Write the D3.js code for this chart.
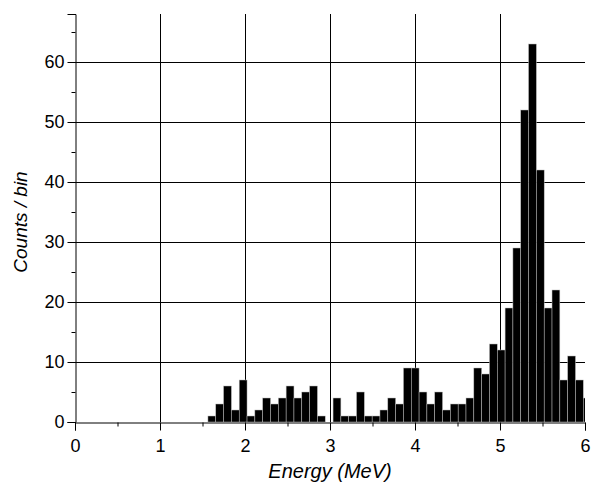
<!DOCTYPE html>
<html>
<head>
<meta charset="utf-8">
<script src="https://cdn.jsdelivr.net/npm/d3@7"></script>
<style>
  body { margin: 0; background: #fff; }
  svg text { font-family: Arial, "Liberation Sans", sans-serif; }
</style>
</head>
<body>
<div id="chart"></div>
<script>
// histogram: counts per energy bin, bins start at index firstBin
const binWidth = 0.092;
const firstBin = 17;
const counts = [1, 3, 6, 2, 7, 1, 2, 4, 3, 4, 6, 4, 5, 6, 1, 0,
  4, 1, 1, 5, 1, 1, 2, 4, 3, 9, 9, 5, 3, 5, 2,
  3, 3, 4, 9, 8, 13, 12, 19, 29, 52, 63, 42, 19, 22, 7, 11, 7, 4];
const xTicks = [0, 1, 2, 3, 4, 5, 6];
const yTicks = [0, 10, 20, 30, 40, 50, 60];

let width = 592, height = 484;
let margin = { top: 14, bottom: 62, left: 75, right: 7 };

let svg = d3.select('#chart')
  .append('svg')
  .attr('width', width)
  .attr('height', height);

let xscale = d3.scaleLinear()
  .domain([0, 6])
  .range([margin.left, width - margin.right]);

let yscale = d3.scaleLinear()
  .domain([0, 68])
  .range([height - margin.bottom, margin.top]);

svg.append('defs').append('clipPath')
  .attr('id', 'plot')
  .append('rect')
  .attr('x', margin.left)
  .attr('y', margin.top)
  .attr('width', xscale(6) - margin.left)
  .attr('height', yscale(0) - margin.top);

// grid
svg.append('g')
  .selectAll('line')
  .data(yTicks.slice(1))
  .join('line')
  .attr('x1', xscale(0))
  .attr('x2', xscale(6))
  .attr('y1', d => Math.round(yscale(d)) + 0.5)
  .attr('y2', d => Math.round(yscale(d)) + 0.5)
  .attr('stroke', '#000')
  .attr('stroke-width', 1);

svg.append('g')
  .selectAll('line')
  .data(xTicks.slice(1, -1))
  .join('line')
  .attr('x1', d => Math.round(xscale(d)) + 0.5)
  .attr('x2', d => Math.round(xscale(d)) + 0.5)
  .attr('y1', yscale(68))
  .attr('y2', yscale(0))
  .attr('stroke', '#000')
  .attr('stroke-width', 1);

// bars
svg.append('g')
  .attr('clip-path', 'url(#plot)')
  .selectAll('rect')
  .data(counts)
  .join('rect')
  .attr('x', (d, i) => xscale((firstBin + i) * binWidth))
  .attr('width', (d, i) => xscale((firstBin + i + 1) * binWidth) - xscale((firstBin + i) * binWidth))
  .attr('y', d => yscale(d))
  .attr('height', d => yscale(0) - yscale(d))
  .attr('fill', '#000')
  .attr('stroke', '#bbb')
  .attr('stroke-width', 0.5);

// axes
let yAxis = svg.append('g')
  .attr('transform', `translate(${margin.left + 0.5},0)`)
  .call(d3.axisLeft(yscale).tickValues(yTicks).tickSize(8).tickPadding(3).tickFormat(d3.format('d')));

svg.append('g')
  .attr('transform', `translate(${margin.left + 0.5},0)`)
  .call(d3.axisLeft(yscale).tickValues(d3.range(5, 68, 10)).tickSize(4).tickFormat(''))
  .select('.domain').remove();

let xAxis = svg.append('g')
  .attr('transform', `translate(0,${height - margin.bottom + 0.5})`)
  .call(d3.axisBottom(xscale).tickValues(xTicks).tickSize(8).tickPadding(9).tickFormat(d3.format('d')));

svg.append('g')
  .attr('transform', `translate(0,${height - margin.bottom + 0.5})`)
  .call(d3.axisBottom(xscale).tickValues(d3.range(0.5, 6, 1)).tickSize(4).tickFormat(''))
  .select('.domain').remove();

svg.selectAll('.domain').attr('stroke', '#000');
svg.selectAll('.tick line').attr('stroke', '#000');

yAxis.selectAll('text').style('font-size', '18px').attr('fill', '#000');
xAxis.selectAll('text').style('font-size', '18px').attr('fill', '#000');

svg.append('text')
  .attr('x', xscale(3))
  .attr('y', 478)
  .attr('text-anchor', 'middle')
  .style('font-size', '20px')
  .style('font-style', 'italic')
  .text('Energy (MeV)');

svg.append('text')
  .attr('x', -222)
  .attr('y', 27)
  .attr('transform', 'rotate(-90)')
  .attr('text-anchor', 'middle')
  .style('font-size', '19px')
  .style('font-style', 'italic')
  .text('Counts / bin');
</script>
</body>
</html>
